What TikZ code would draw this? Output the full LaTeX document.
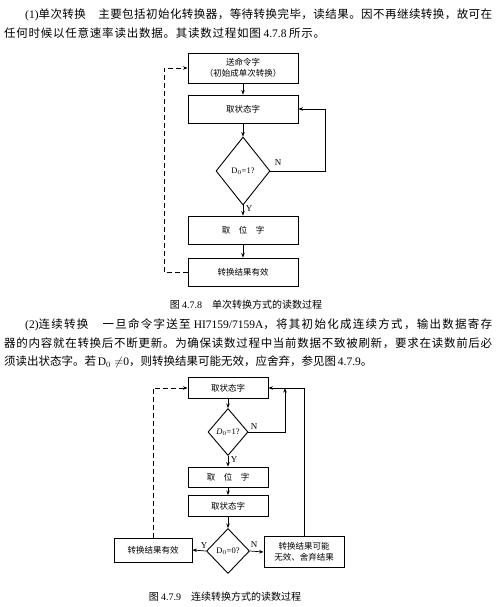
\documentclass[tikz,border=0pt]{standalone}
\usepackage{fontspec}
\setmainfont{Noto Sans CJK SC}
\newfontfamily\lat{Liberation Serif}
\usetikzlibrary{shapes.geometric,arrows.meta}
\newcommand\cjkglue{\hskip 0pt plus 10pt\relax}
\newXeTeXintercharclass\cjkcls
\makeatletter
\count@="3000 \loop\ifnum\count@<"3040 \XeTeXcharclass\count@=\cjkcls\relax \advance\count@ 1 \repeat
\count@="4E00 \loop\ifnum\count@<"A000 \XeTeXcharclass\count@=\cjkcls\relax \advance\count@ 1 \repeat
\count@="FF00 \loop\ifnum\count@<"FFF0 \XeTeXcharclass\count@=\cjkcls\relax \advance\count@ 1 \repeat
\makeatother
\XeTeXinterchartoks\cjkcls\cjkcls={\cjkglue}
\XeTeXinterchartoks 0 \cjkcls={\cjkglue}
\XeTeXinterchartoks\cjkcls 0 ={\cjkglue}
\newcommand\jline[2]{\hbox to #1{\XeTeXinterchartokenstate=1 #2\XeTeXinterchartokenstate=0 }}
\begin{document}
\begin{tikzpicture}[x=1pt,y=-1pt,
  box/.style={draw,line width=0.9pt,inner sep=1pt,align=center,font=\fontsize{8.5}{11}\selectfont},
  dia/.style={draw,diamond,line width=0.9pt,inner sep=0pt,align=center,font=\fontsize{8.5}{10}\selectfont},
  arr/.style={line width=0.7pt,-{Stealth[length=4.5pt,width=3.5pt]}},
  dsh/.style={line width=0.8pt,dash pattern=on 5pt off 3pt,-{Stealth[length=4.5pt,width=3.5pt]}},
  lbl/.style={font=\lat\fontsize{9}{10}\selectfont,inner sep=0pt},
  bodytxt/.style={anchor=west,inner sep=0pt,font=\fontsize{11.5}{13}\selectfont},
  captxt/.style={inner sep=0pt,font=\fontsize{10}{12}\selectfont}]
\useasboundingbox (0,0) rectangle (495,607);

% paragraph 1
\node[bodytxt] (t1) at (25,15) {\jline{467pt}{{\lat (1)}单次转换　主要包括初始化转换器，等待转换完毕，读结果。因不再继续转换，故可在}};
\node[bodytxt] (t2) at (4,33) {\jline{321pt}{任何时候以任意速率读出数据。其读数过程如图 {\lat 4.7.8} 所示。}};

% figure 4.7.8
\node[box,minimum width=110pt,minimum height=30pt] (b1) at (243,68) {送命令字\\（初始成单次转换）};
\node[box,minimum width=110pt,minimum height=28pt] (b2) at (243,109) {取状态字};
\node[dia,minimum width=54pt,minimum height=68pt] (d1) at (243,171) {{\lat D}$_0${\lat =1?}};
\node[box,minimum width=110pt,minimum height=28pt] (b3) at (243,230) {取　位　字};
\node[box,minimum width=110pt,minimum height=28pt] (b4) at (243,272) {转换结果有效};
\coordinate (r1) at (325,171);
\coordinate (l1) at (164,272);
\draw[arr] (b1) -- (b2);
\draw[arr] (b2) -- (d1);
\draw[arr] (d1) -- (b3);
\draw[arr] (b3) -- (b4);
\draw[arr] (d1.east) -- (r1) |- (b2.east);
\draw[dsh] (b4.west) -- (l1) |- (b1.west);
\node[lbl] (n1) at (278,163) {N};
\node[lbl] (y1) at (249,209) {Y};
\node[captxt] (c1) at (246,305) {图 {\lat 4.7.8}　单次转换方式的读数过程};

% paragraph 2
\node[bodytxt] (t3) at (25,325) {\jline{467pt}{{\lat (2)}连续转换　一旦命令字送至{\lat\ HI7159/7159A}，将其初始化成连续方式，输出数据寄存}};
\node[bodytxt] (t4) at (4,343) {\jline{488pt}{器的内容就在转换后不断更新。为确保读数过程中当前数据不致被刷新，要求在读数前后必}};
\node[bodytxt] (t5) at (4,362) {\jline{358pt}{须读出状态字。若 {\lat D}$_0\neq${\lat 0}，则转换结果可能无效，应舍弃，参见图 {\lat 4.7.9}。}};

% figure 4.7.9
\node[box,minimum width=80pt,minimum height=21pt] (A) at (228,388) {取状态字};
\node[dia,minimum width=40pt,minimum height=47pt] (da) at (228,432) {{\lat\itshape D}$_0${\lat =1?}};
\node[box,minimum width=80pt,minimum height=20pt] (B) at (228,477) {取　位　字};
\node[box,minimum width=80pt,minimum height=21pt] (C) at (228,506) {取状态字};
\node[dia,minimum width=43pt,minimum height=45pt] (db) at (228,551) {{\lat D}$_0${\lat =0?}};
\node[box,minimum width=78pt,minimum height=24pt] (D) at (153,550) {转换结果有效};
\node[box,minimum width=80pt,minimum height=31pt] (E) at (304,552) {转换结果可能\\无效、舍弃结果};
\coordinate (ra) at (285,432);
\coordinate (rt) at (285,388);
\coordinate (et) at (304,388);
\coordinate (dt) at (153,388);
\draw[arr] (A) -- (da);
\draw[arr] (da) -- (B);
\draw[arr] (B) -- (C);
\draw[arr] (C) -- (db);
\draw[arr] (db.west) -- (D.east);
\draw[arr] (db.east) -- (E.west);
\draw[arr] (da.east) -- (ra) -- (rt);
\draw[arr] (E.north) -- (et) -- (A.east);
\draw[dsh] (D.north) -- (dt) -- (A.west);
\node[lbl] (n2) at (254,427) {N};
\node[lbl] (y2) at (234,460) {Y};
\node[lbl] (y3) at (204,546) {Y};
\node[lbl] (n3) at (254,545) {N};
\node[captxt] (c2) at (225,597) {图 {\lat 4.7.9}　连续转换方式的读数过程};
\end{tikzpicture}
\end{document}
